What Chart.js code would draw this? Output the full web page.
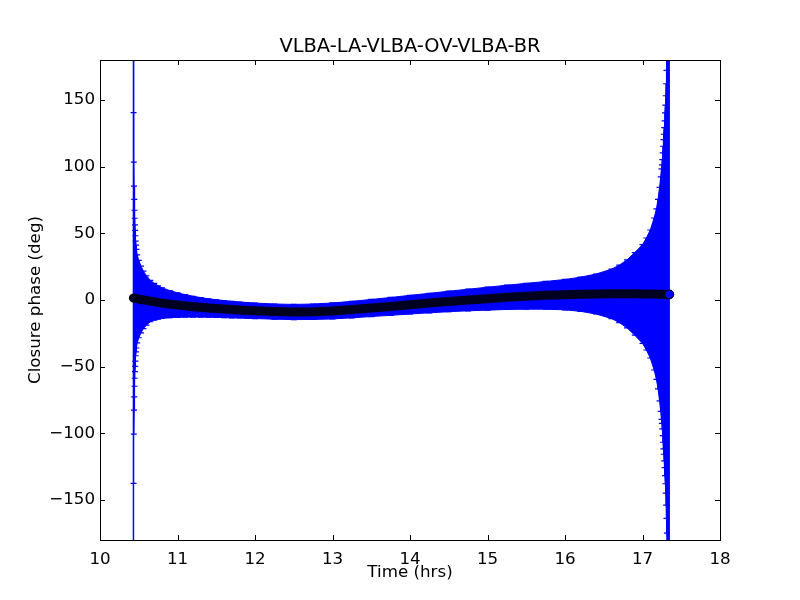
<!DOCTYPE html>
<html lang="en">
<head>
<meta charset="UTF-8">
<title>VLBA-LA-VLBA-OV-VLBA-BR</title>
<script src="https://cdn.jsdelivr.net/npm/chart.js"></script>
<style>
    html, body { margin: 0; padding: 0; background: #fff; }
    #wrap { width: 800px; height: 600px; }
</style>
</head>
<body>
<div id="wrap"><canvas id="phaseChart" width="800" height="600"></canvas></div>
<script>
    // time (hrs), closure phase (deg), phase error (deg)
    const times = [
        10.430, 10.433, 10.436, 10.439, 10.442, 10.445, 10.448, 10.451, 10.454, 10.457,
        10.460, 10.465, 10.470, 10.480, 10.500, 10.530, 10.560, 10.600, 10.650, 10.700,
        10.750, 10.800, 10.900, 11.000, 11.100, 11.200, 11.300, 11.400, 11.500, 11.600,
        11.700, 11.800, 11.900, 12.000, 12.250, 12.500, 12.750, 13.000, 13.250, 13.500,
        13.750, 14.000, 14.250, 14.500, 14.750, 15.000, 15.250, 15.500, 15.750, 16.000,
        16.200, 16.400, 16.600, 16.700, 16.800, 16.900, 17.000, 17.050, 17.100, 17.150,
        17.180, 17.200, 17.220, 17.235, 17.245, 17.250, 17.255, 17.260, 17.265, 17.270,
        17.275, 17.280, 17.285, 17.290, 17.295, 17.300, 17.305, 17.310, 17.315, 17.320,
        17.325, 17.330, 17.335, 17.340, 17.345
    ];
    const phase = [
        1.5, 1.5, 1.4, 1.4, 1.4, 1.3, 1.3, 1.3, 1.2, 1.2,
        1.2, 1.1, 1.0, 0.9, 0.7, 0.4, 0.1, -0.3, -0.8, -1.3,
        -1.8, -2.3, -3.1, -3.8, -4.4, -5.0, -5.5, -6.0, -6.4, -6.8,
        -7.2, -7.5, -7.8, -8.1, -8.7, -9.0, -8.8, -8.2, -7.2, -6.0,
        -4.8, -3.5, -2.3, -1.1, 0.0, 1.0, 2.0, 2.8, 3.5, 4.0,
        4.3, 4.5, 4.6, 4.6, 4.6, 4.6, 4.5, 4.5, 4.5, 4.5,
        4.4, 4.4, 4.4, 4.4, 4.4, 4.4, 4.3, 4.3, 4.3, 4.3,
        4.3, 4.3, 4.3, 4.3, 4.2, 4.2, 4.2, 4.2, 4.2, 4.2,
        4.2, 4.2, 4.2, 4.2, 4.2
    ];
    const phaseErr = [
        400, 139, 102, 84, 74, 66, 60, 55, 51, 47,
        43, 40, 37, 33, 29, 25, 21.5, 18.5, 15.5, 13.8,
        12.5, 11.5, 10.2, 9.2, 8.4, 7.8, 7.3, 6.9, 6.6, 6.4,
        6.2, 6.0, 5.9, 5.8, 5.7, 5.7, 5.8, 6.0, 6.2, 6.4,
        6.7, 7.0, 7.3, 7.7, 8.1, 8.6, 9.1, 9.7, 10.4, 11.4,
        12.8, 15.0, 18.5, 21.5, 25.5, 31, 37, 42, 48, 57,
        64, 71, 80, 88, 94, 97, 101, 106, 111, 116,
        120, 125, 130, 136, 142, 149, 158, 168, 179, 195,
        215, 245, 290, 350, 420
    ];
    const xTicks = [10, 11, 12, 13, 14, 15, 16, 17, 18];
    const yTicks = [-150, -100, -50, 0, 50, 100, 150];

    const FONT = 'DejaVu Sans';
    const lastIdx = times.length - 1;

    const phasePts = times.map((t, i) => ({ x: t, y: phase[i] }));
    const upperPts = times.map((t, i) => ({ x: t, y: phase[i] + phaseErr[i] }));
    const lowerPts = times.map((t, i) => ({ x: t, y: phase[i] - phaseErr[i] }));

    // vertical error bars with caps, drawn under the phase markers
    const errorBars = {
        id: 'errorBars',
        beforeDatasetDraw(chart, args) {
            if (args.index !== 0) return;
            const { ctx, chartArea: a, scales: { x, y } } = chart;
            ctx.save();
            ctx.beginPath();
            ctx.rect(a.left, a.top, a.right - a.left, a.bottom - a.top);
            ctx.clip();
            ctx.strokeStyle = '#0000ff';
            ctx.lineWidth = 1.2;
            times.forEach((t, i) => {
                const px = x.getPixelForValue(t);
                const top = y.getPixelForValue(phase[i] + phaseErr[i]);
                const bot = y.getPixelForValue(phase[i] - phaseErr[i]);
                ctx.beginPath();
                ctx.moveTo(px, top); ctx.lineTo(px, bot);
                ctx.moveTo(px - 3, top); ctx.lineTo(px + 3, top);
                ctx.moveTo(px - 3, bot); ctx.lineTo(px + 3, bot);
                ctx.stroke();
            });
            ctx.restore();
        }
    };

    // matplotlib-style frame, inward ticks on all sides, and title
    const frame = {
        id: 'frame',
        afterDraw(chart) {
            const { ctx, chartArea: a, scales: { x, y } } = chart;
            const tl = 5;
            ctx.save();
            ctx.strokeStyle = '#000';
            ctx.lineWidth = 1;
            ctx.strokeRect(Math.round(a.left) + 0.5, Math.round(a.top) + 0.5,
                Math.round(a.right - a.left), Math.round(a.bottom - a.top));
            ctx.beginPath();
            xTicks.forEach(v => {
                const px = Math.round(x.getPixelForValue(v)) + 0.5;
                ctx.moveTo(px, a.bottom); ctx.lineTo(px, a.bottom - tl);
                ctx.moveTo(px, a.top); ctx.lineTo(px, a.top + tl);
            });
            yTicks.forEach(v => {
                const py = Math.round(y.getPixelForValue(v)) + 0.5;
                ctx.moveTo(a.left, py); ctx.lineTo(a.left + tl, py);
                ctx.moveTo(a.right, py); ctx.lineTo(a.right - tl, py);
            });
            ctx.stroke();

            ctx.fillStyle = '#000';
            ctx.font = '19.4px "' + FONT + '"';
            ctx.textAlign = 'center';
            ctx.textBaseline = 'middle';
            ctx.fillText('VLBA-LA-VLBA-OV-VLBA-BR', (a.left + a.right) / 2, 47);
            ctx.restore();
        }
    };

    const fmt = v => (v < 0 ? '\u2212' + Math.abs(v) : String(v));

    new Chart(document.getElementById('phaseChart'), {
        type: 'line',
        data: {
            datasets: [
                {
                    label: 'closure phase',
                    data: phasePts,
                    borderColor: '#000020',
                    borderWidth: 9,
                    borderCapStyle: 'round',
                    borderJoinStyle: 'round',
                    pointRadius: ctx => (ctx.dataIndex === lastIdx ? 4.5 : 0),
                    pointBackgroundColor: '#0000ff',
                    pointBorderColor: '#000',
                    pointBorderWidth: 1,
                    fill: false
                },
                {
                    label: 'upper',
                    data: upperPts,
                    borderColor: '#0000ff',
                    borderWidth: 1,
                    backgroundColor: '#0000ff',
                    pointRadius: 0,
                    fill: '+1'
                },
                {
                    label: 'lower',
                    data: lowerPts,
                    borderColor: '#0000ff',
                    borderWidth: 1,
                    pointRadius: 0,
                    fill: false
                }
            ]
        },
        options: {
            responsive: false,
            animation: false,
            layout: { padding: { top: 60, right: 80, left: 0, bottom: 0 } },
            plugins: {
                legend: { display: false },
                tooltip: { enabled: false },
                title: { display: false }
            },
            scales: {
                x: {
                    type: 'linear',
                    min: 10,
                    max: 18,
                    afterBuildTicks: s => { s.ticks = xTicks.map(v => ({ value: v })); },
                    afterFit: s => { s.height = 60; },
                    grid: { display: false },
                    border: { display: false },
                    ticks: {
                        color: '#000',
                        padding: 2,
                        maxRotation: 0,
                        font: { family: FONT, size: 16.7 },
                        callback: v => fmt(v)
                    },
                    title: {
                        display: true,
                        text: 'Time (hrs)',
                        color: '#000',
                        font: { family: FONT, size: 16.7 },
                        padding: { top: 0, bottom: 17 }
                    }
                },
                y: {
                    type: 'linear',
                    min: -180,
                    max: 180,
                    afterBuildTicks: s => { s.ticks = yTicks.map(v => ({ value: v })); },
                    afterFit: s => { s.width = 100; },
                    grid: { display: false, drawTicks: false },
                    border: { display: false },
                    ticks: {
                        color: '#000',
                        padding: 5,
                        font: { family: FONT, size: 16.7 },
                        callback: v => fmt(v)
                    },
                    title: {
                        display: true,
                        text: 'Closure phase (deg)',
                        color: '#000',
                        font: { family: FONT, size: 16.7 },
                        padding: { top: 26, bottom: 0 }
                    }
                }
            }
        },
        plugins: [errorBars, frame]
    });
</script>
</body>
</html>
